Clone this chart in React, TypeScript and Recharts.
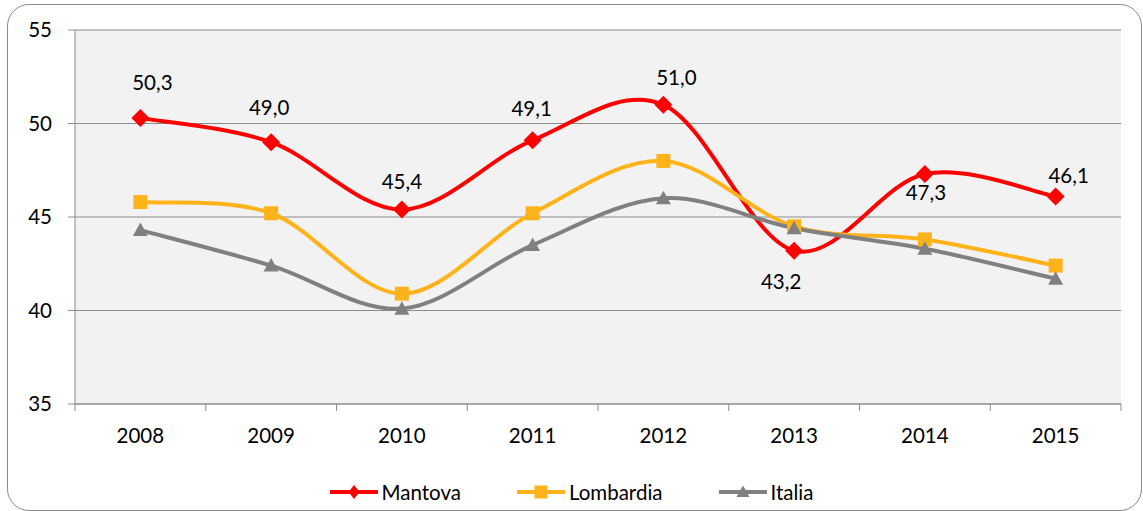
import React from 'react';
import { LineChart, Line, XAxis, YAxis, CartesianGrid, Legend, LabelList } from 'recharts';

const years = ['2008', '2009', '2010', '2011', '2012', '2013', '2014', '2015'];
const mantova = [50.3, 49.0, 45.4, 49.1, 51.0, 43.2, 47.3, 46.1];
const lombardia = [45.8, 45.2, 40.9, 45.2, 48.0, 44.5, 43.8, 42.4];
const italia = [44.3, 42.4, 40.1, 43.5, 46.0, 44.4, 43.3, 41.7];
const yTicks = [35, 40, 45, 50, 55];
const seriesOrder = ['Mantova', 'Lombardia', 'Italia'];

const data = years.map((y, i) => ({
  year: y,
  Mantova: mantova[i],
  Lombardia: lombardia[i],
  Italia: italia[i],
}));

// label placement (style, not data)
const labelOffsets = [
  [12, -35], [-2, -35], [0, -27.5], [-1, -32], [13, -27], [-13, 31], [1, 19], [13, -21],
];

const W = 1143;
const H = 511;
const PLOT_L = 75;
const PLOT_R = 1121;
const HALF_BAND = (PLOT_R - PLOT_L) / years.length / 2;
const FONT = 'Lato, "Open Sans", sans-serif';
const FS = 20.5;
const RED = '#ff0000';
const YEL = '#ffb31a';
const GRAY = '#808080';

// Excel-like smooth curve (Catmull-Rom as cubic Bezier)
function excelCurve(context: any) {
  let pts: number[][] = [];
  return {
    areaStart() {},
    areaEnd() {},
    lineStart() {
      pts = [];
    },
    lineEnd() {
      const n = pts.length;
      if (!n) return;
      context.moveTo(pts[0][0], pts[0][1]);
      for (let i = 0; i < n - 1; i++) {
        const p0 = pts[Math.max(i - 1, 0)];
        const p1 = pts[i];
        const p2 = pts[i + 1];
        const p3 = pts[Math.min(i + 2, n - 1)];
        context.bezierCurveTo(
          p1[0] + (p2[0] - p0[0]) / 6,
          p1[1] + (p2[1] - p0[1]) / 6,
          p2[0] - (p3[0] - p1[0]) / 6,
          p2[1] - (p3[1] - p1[1]) / 6,
          p2[0],
          p2[1]
        );
      }
    },
    point(x: number, y: number) {
      pts.push([+x, +y]);
    },
  };
}

const Diamond = (props: any) => {
  const { cx, cy, index } = props;
  if (cx == null || cy == null) return <g key={`d${index}`} />;
  const r = 9;
  return (
    <polygon
      key={`d${index}`}
      points={`${cx},${cy - r} ${cx + r},${cy} ${cx},${cy + r} ${cx - r},${cy}`}
      fill={RED}
    />
  );
};

const Square = (props: any) => {
  const { cx, cy, index } = props;
  if (cx == null || cy == null) return <g key={`s${index}`} />;
  const r = 7;
  return <rect key={`s${index}`} x={cx - r} y={cy - r} width={2 * r} height={2 * r} fill={YEL} />;
};

const Triangle = (props: any) => {
  const { cx, cy, index } = props;
  if (cx == null || cy == null) return <g key={`t${index}`} />;
  return (
    <polygon
      key={`t${index}`}
      points={`${cx},${cy - 7.5} ${cx + 7.5},${cy + 6} ${cx - 7.5},${cy + 6}`}
      fill={GRAY}
    />
  );
};

const MantovaLabel = (props: any) => {
  const { x, y, value, index } = props;
  const off = labelOffsets[index] || [0, -30];
  return (
    <text
      x={x + off[0]}
      y={y + off[1]}
      dy="0.36em"
      textAnchor="middle"
      fontFamily={FONT}
      fontSize={FS}
      fill="#000"
    >
      {Number(value).toFixed(1).replace('.', ',')}
    </text>
  );
};

const XTick = (props: any) => {
  const { x, y, payload, index, visibleTicksCount } = props;
  const last = index === (visibleTicksCount ?? years.length) - 1;
  return (
    <g>
      <line x1={x - HALF_BAND} x2={x - HALF_BAND} y1={y} y2={y + 7} stroke="#8c8c8c" strokeWidth={1} />
      {last && (
        <line x1={x + HALF_BAND} x2={x + HALF_BAND} y1={y} y2={y + 7} stroke="#8c8c8c" strokeWidth={1} />
      )}
      <text x={x} y={y + 32} dy="0.36em" textAnchor="middle" fontFamily={FONT} fontSize={FS} fill="#000">
        {payload.value}
      </text>
    </g>
  );
};

const legendIcon = (key: string, color: string) => {
  let marker: React.ReactNode = null;
  if (key === 'Mantova') marker = <polygon points="24,1 29.5,8 24,15 18.5,8" fill={color} />;
  else if (key === 'Lombardia') marker = <rect x={17.5} y={1.5} width={13} height={13} fill={color} />;
  else marker = <polygon points="24,1.5 30.5,13 17.5,13" fill={color} />;
  return (
    <svg width={48} height={16} style={{ display: 'block' }}>
      <line x1={1} x2={47} y1={8} y2={8} stroke={color} strokeWidth={4} strokeLinecap="round" />
      {marker}
    </svg>
  );
};

const LegendContent = (props: any) => {
  const payload = [...(props.payload || [])].sort(
    (a: any, b: any) => seriesOrder.indexOf(a.value) - seriesOrder.indexOf(b.value)
  );
  return (
    <div style={{ display: 'flex', justifyContent: 'center', alignItems: 'center', width: '100%' }}>
      {payload.map((p: any, i: number) => (
        <div
          key={p.value}
          style={{ display: 'flex', alignItems: 'center', marginLeft: i === 0 ? 0 : 56 }}
        >
          {legendIcon(p.value, p.color)}
          <span style={{ fontFamily: FONT, fontSize: FS, color: '#000', marginLeft: 4, lineHeight: '20px' }}>
            {p.value}
          </span>
        </div>
      ))}
    </div>
  );
};

export default function App() {
  return (
    <div style={{ position: 'absolute', left: 0, top: 0, width: W, height: H, background: '#fff', overflow: 'hidden' }}>
      <div
        style={{
          position: 'absolute',
          left: 7,
          top: 4,
          width: 1135,
          height: 507,
          boxSizing: 'border-box',
          border: '1.5px solid #8a8a8a',
          borderRadius: 22,
        }}
      />
      <div style={{ position: 'absolute', left: 0, top: 0 }}>
        <LineChart width={W} height={H} data={data} margin={{ top: 30, right: W - PLOT_R, left: 15, bottom: 67 }}>
          <CartesianGrid vertical={false} stroke="#8c8c8c" fill="#f2f2f2" fillOpacity={1} />
          <XAxis
            dataKey="year"
            scale="band"
            height={40}
            stroke="#8c8c8c"
            tickLine={false}
            tickSize={0}
            tickMargin={0}
            interval={0}
            tick={<XTick />}
          />
          <YAxis
            width={60}
            domain={[35, 55]}
            ticks={yTicks}
            stroke="#8c8c8c"
            tickSize={7}
            tickMargin={16}
            tick={{ fill: '#000', fontFamily: FONT, fontSize: FS }}
            allowDataOverflow
          />
          <Legend
            verticalAlign="middle"
            align="center"
            layout="horizontal"
            wrapperStyle={{ top: 482, left: 0, width: W }}
            content={<LegendContent />}
          />
          <Line
            dataKey="Mantova"
            type={excelCurve as any}
            stroke={RED}
            strokeWidth={4}
            dot={Diamond}
            activeDot={false}
            isAnimationActive={false}
          >
            <LabelList dataKey="Mantova" content={<MantovaLabel />} />
          </Line>
          <Line
            dataKey="Lombardia"
            type={excelCurve as any}
            stroke={YEL}
            strokeWidth={4}
            dot={Square}
            activeDot={false}
            isAnimationActive={false}
          />
          <Line
            dataKey="Italia"
            type={excelCurve as any}
            stroke={GRAY}
            strokeWidth={4}
            dot={Triangle}
            activeDot={false}
            isAnimationActive={false}
          />
        </LineChart>
      </div>
    </div>
  );
}
